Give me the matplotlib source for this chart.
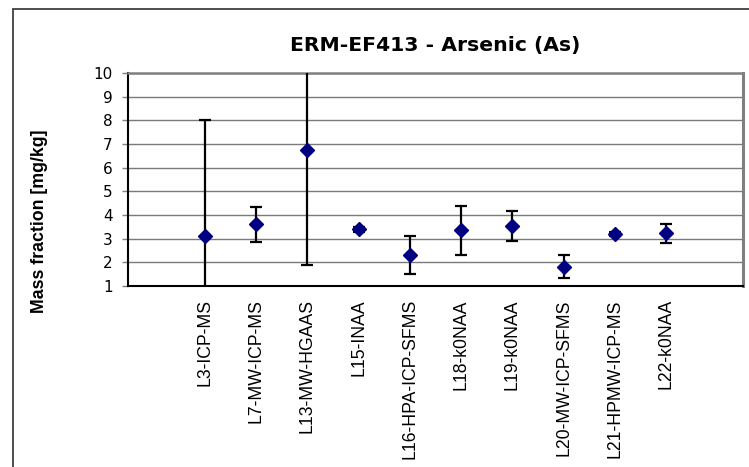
import matplotlib
matplotlib.use("Agg")
import matplotlib.pyplot as plt
from matplotlib.patches import Rectangle
import numpy as np

# Laboratory results for arsenic in ERM-EF413
labs = ["L3-ICP-MS", "L7-MW-ICP-MS", "L13-MW-HGAAS", "L15-INAA",
        "L16-HPA-ICP-SFMS", "L18-k0NAA", "L19-k0NAA", "L20-MW-ICP-SFMS",
        "L21-HPMW-ICP-MS", "L22-k0NAA"]
mass_fraction = [3.1, 3.6, 6.75, 3.4, 2.3, 3.35, 3.53, 1.82, 3.2, 3.22]
uncertainty = [4.9, 0.72, 4.88, 0.1, 0.8, 1.05, 0.62, 0.5, 0.1, 0.42]
y_ticks = [1, 2, 3, 4, 5, 6, 7, 8, 9, 10]

W, H = 749, 467
fig = plt.figure(figsize=(W / 100, H / 100), dpi=100)

# chart frame (runs off the right and bottom edges)
fig.patches.append(Rectangle((13 / W, -0.2), 2.0, 1.2 - 9 / H,
                             transform=fig.transFigure, fill=False,
                             edgecolor="#404040", linewidth=1.3,
                             clip_on=False))

ax = fig.add_axes([128 / W, 1 - 286 / H, (743 - 128) / W, (286 - 73) / H])

# one empty category slot on each side of the labs
slots = [""] + labs + [""]
x = np.arange(1, len(labs) + 1)

ax.set_xlim(-0.5, len(slots) - 0.5)
ax.set_ylim(y_ticks[0], y_ticks[-1])
ax.set_yticks(y_ticks)
ax.set_yticklabels([str(t) for t in y_ticks], fontsize=11,
                   family="DejaVu Sans")
ax.set_xticks(np.arange(len(slots)))
ax.set_xticklabels(slots, rotation=90, fontsize=12.7,
                   family="Liberation Sans", va="top", ha="center")
ax.tick_params(axis="x", length=0, pad=9.5)
ax.tick_params(axis="y", length=4, width=1, color="#808080", pad=7)

ax.grid(axis="y", color="#7a7a7a", linewidth=1.0)
ax.set_axisbelow(True)

for side in ("left", "bottom"):
    ax.spines[side].set_color("black")
    ax.spines[side].set_linewidth(1.5)
ax.spines["top"].set_color("#808080")
ax.spines["top"].set_linewidth(1.8)
ax.spines["right"].set_color("#808080")
ax.spines["right"].set_linewidth(2.2)

ax.errorbar(x, mass_fraction, yerr=uncertainty, fmt="none",
            ecolor="black", elinewidth=1.6, capsize=4.4, capthick=1.6,
            zorder=3)
ax.plot(x, mass_fraction, linestyle="none", marker="D", markersize=6.9,
        color="#000080", markeredgecolor="#000080", zorder=4)

fig.text(435.5 / W, 1 - 51.5 / H, "ERM-EF413 - Arsenic (As)",
         ha="center", va="baseline", fontsize=14.7, fontweight="bold",
         family="DejaVu Sans")
fig.text(40 / W, 1 - 221 / H, "Mass fraction [mg/kg]", rotation=90,
         ha="center", va="center", fontsize=12.8, fontweight="bold",
         family="Liberation Sans")

fig.savefig("out.png", dpi=100)
